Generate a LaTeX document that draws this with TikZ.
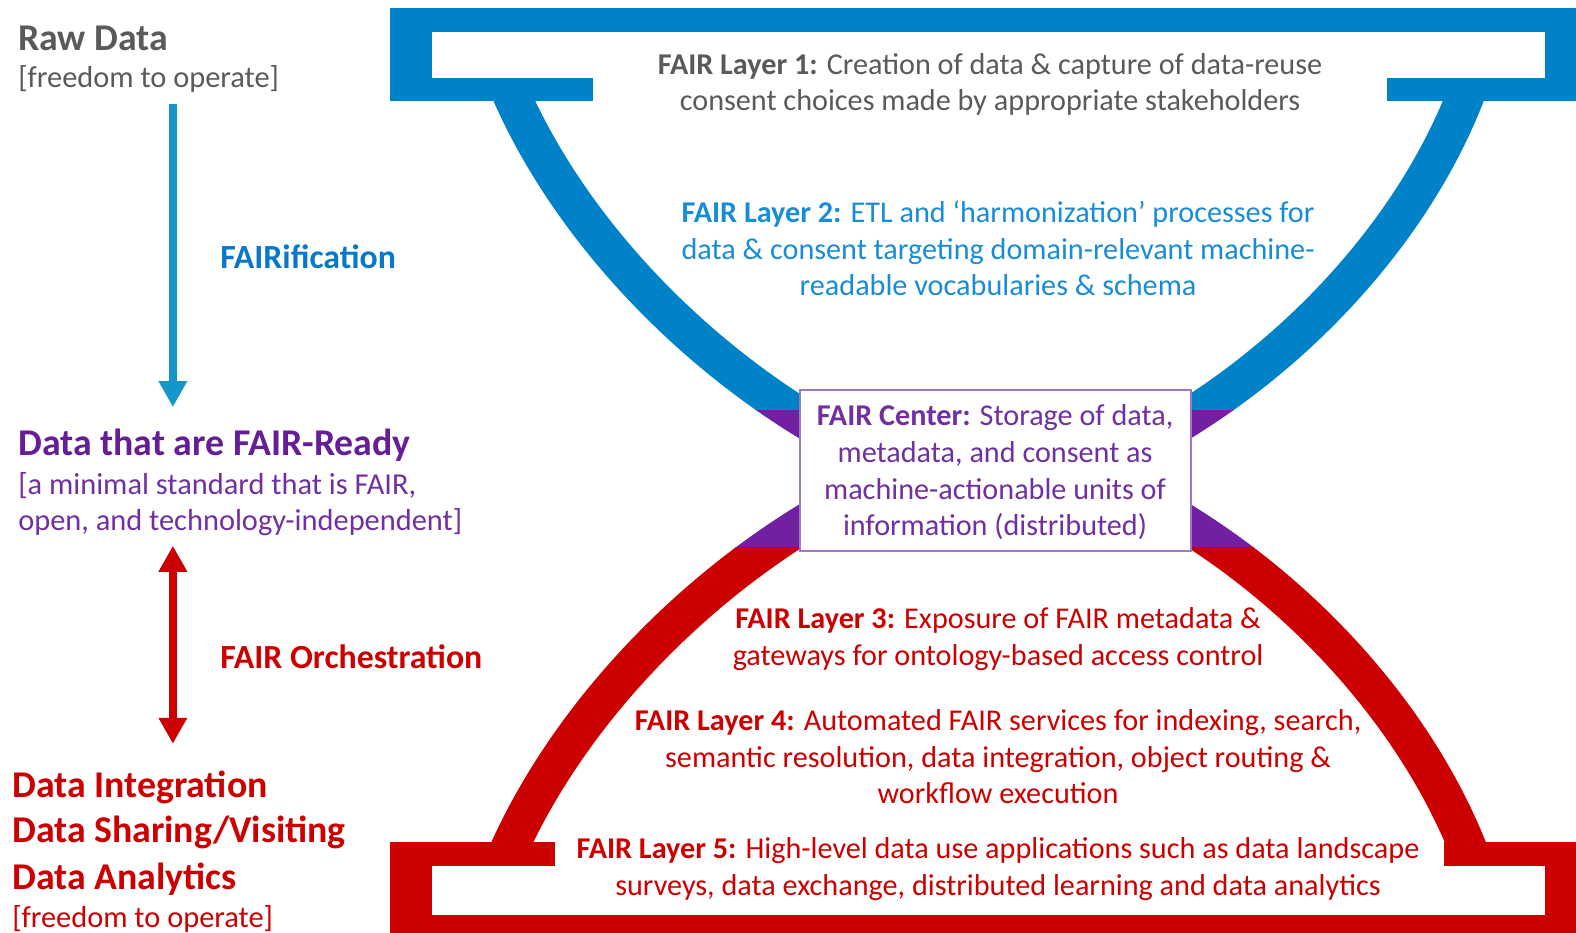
\documentclass[tikz,border=0pt]{standalone}
\usepackage{fontspec}
\setmainfont{Carlito}
\usetikzlibrary{arrows.meta}
\definecolor{fblue}{RGB}{0,130,200}
\definecolor{fpurple}{RGB}{112,32,160}
\definecolor{fred}{RGB}{204,0,0}
\definecolor{fgray}{RGB}{90,90,90}
\definecolor{ltwo}{RGB}{25,140,215}
\definecolor{fairif}{RGB}{10,120,200}
\definecolor{farrow}{RGB}{20,150,200}
\definecolor{purpdark}{RGB}{102,30,150}
\definecolor{purptxt}{RGB}{112,48,160}
\definecolor{boxline}{RGB}{160,120,200}
\begin{document}
\begin{tikzpicture}[x=1.005pt,y=-1.005pt,
  body/.style={font=\fontsize{30.2}{36.6}\selectfont, align=center, inner sep=0pt},
  head/.style={font=\fontsize{37.8}{44}\selectfont\bfseries, anchor=west, inner sep=0pt},
  sub/.style={font=\fontsize{30.4}{36}\selectfont, anchor=west, inner sep=0pt},
  mid/.style={font=\fontsize{33.8}{40}\selectfont\bfseries, anchor=west, inner sep=0pt},
  arm/.style={line width=38pt},
  flow/.style={line width=8pt, -{Triangle[width=27pt,length=26pt]}},
  twoway/.style={line width=8pt, {Triangle[width=27pt,length=26pt]}-{Triangle[width=27pt,length=26pt]}},
  centerbox/.style={draw=boxline, line width=1.5pt, fill=white, minimum width=391pt, minimum height=161pt, inner sep=0pt}
]
\useasboundingbox (0,0) rectangle (1568,928);
% top bar
\fill[fblue] (388,8) rectangle (1568,100);
\fill[white] (430,32) rectangle (1537,78);
\fill[white] (590,77) rectangle (1380,101);
% bottom bar
\fill[fred] (388,838) rectangle (1568,928);
\fill[white] (430,862) rectangle (1537,910);
\fill[white] (552,837) rectangle (1437,863);
% arms
\begin{scope}
  \clip (0,0) rectangle (1568,408);
  \draw[arm,fblue] (507,90) .. controls (570,235) and (700,365) .. (840,440);
  \draw[arm,fblue] (1460,90) .. controls (1405,235) and (1280,365) .. (1140,440);
\end{scope}
\begin{scope}
  \clip (0,408) rectangle (1568,545);
  \draw[arm,fpurple] (507,90) .. controls (570,235) and (700,365) .. (840,440);
  \draw[arm,fpurple] (1460,90) .. controls (1405,235) and (1280,365) .. (1140,440);
  \draw[arm,fpurple] (505,848) .. controls (570,703) and (700,573) .. (840,498);
  \draw[arm,fpurple] (1462,848) .. controls (1405,703) and (1280,573) .. (1140,498);
\end{scope}
\begin{scope}
  \clip (0,545) rectangle (1568,928);
  \draw[arm,fred] (505,848) .. controls (570,703) and (700,573) .. (840,498);
  \draw[arm,fred] (1462,848) .. controls (1405,703) and (1280,573) .. (1140,498);
\end{scope}
% center box
\node[centerbox] (center) at (990.5,468) {};
\node[body, text=purptxt] (centertext) at (990,470) {\textbf{FAIR Center:} Storage of data,\\metadata, and consent as\\machine-actionable units of\\information (distributed)};
% layers
\node[body, text=fgray] (l1) at (985,84) {\textbf{FAIR Layer 1:} Creation of data \& capture of data-reuse\\consent choices made by appropriate stakeholders};
\node[body, text=ltwo] (l2) at (993,247) {\textbf{FAIR Layer 2:} ETL and ‘harmonization’ processes for\\data \& consent targeting domain-relevant machine-\\readable vocabularies \& schema};
\node[body, text=fred] (l3) at (993,636) {\textbf{FAIR Layer 3:} Exposure of FAIR metadata \&\\gateways for ontology-based access control};
\node[body, text=fred] (l4) at (993,753) {\textbf{FAIR Layer 4:} Automated FAIR services for indexing, search,\\semantic resolution, data integration, object routing \&\\workflow execution};
\node[body, text=fred] (l5) at (993,864.5) {\textbf{FAIR Layer 5:} High-level data use applications such as data landscape\\surveys, data exchange, distributed learning and data analytics};
% left column
\node[head, text=fgray] (raw) at (18,38) {Raw Data};
\node[sub, text=fgray] (rawsub) at (18,79) {[freedom to operate]};
\node[mid, text=fairif] (fairification) at (219,255) {FAIRification};
\node[head, text=purpdark] (ready) at (18,442.5) {Data that are FAIR-Ready};
\node[sub, text=purptxt] (ready1) at (18,483.5) {[a minimal standard that is FAIR,};
\node[sub, text=purptxt] (ready2) at (18,519.5) {open, and technology-independent]};
\node[mid, text=fred] (orch) at (219,653.5) {FAIR Orchestration};
\node[head, text=fred] (use1) at (12,783.5) {Data Integration};
\node[head, text=fred] (use2) at (12,828.5) {Data Sharing/Visiting};
\node[head, text=fred] (use3) at (12,874.5) {Data Analytics};
\node[sub, text=fred] (use4) at (12,914) {[freedom to operate]};
% arrows
\coordinate (fa1) at (172,103);
\coordinate (fa2) at (172,405);
\draw[flow, farrow] (fa1) -- (fa2);
\coordinate (oa1) at (172,543);
\coordinate (oa2) at (172,740);
\draw[twoway, fred] (oa1) -- (oa2);
\end{tikzpicture}
\end{document}
